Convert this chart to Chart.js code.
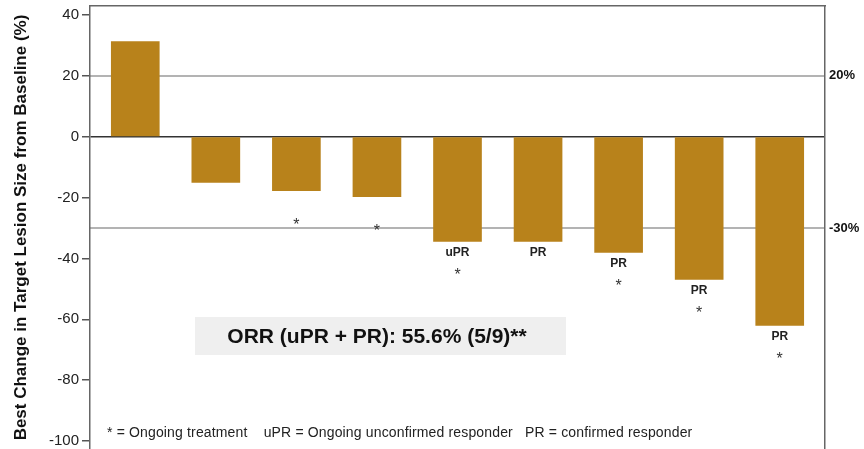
<!DOCTYPE html>
<html lang="en">
<head>
    <meta charset="UTF-8">
    <title>Best Change in Target Lesion Size</title>
    <script src="https://cdn.jsdelivr.net/npm/chart.js"></script>
    <style>
        body {
            margin: 0;
            background: #fff;
        }
        #wrap {
            position: relative;
            width: 864px;
            height: 449px;
        }
    </style>
</head>
<body>

<div id="wrap">
    <canvas id="waterfall"></canvas>
</div>

<script>
    // patients, left to right (not printed on the chart)
    const patients = ['1', '2', '3', '4', '5', '6', '7', '8', '9'];
    // best % change from baseline
    const bestChange = [31.3, -15, -17.7, -19.7, -34.4, -34.4, -38, -46.9, -62];
    const response = ['', '', '', '', 'uPR', 'PR', 'PR', 'PR', 'PR'];
    const ongoing = [false, false, true, true, true, false, true, true, true];

    const yTicks = [40, 20, 0, -20, -40, -60, -80, -100];
    const refLines = [20, -30];
    const orrText = 'ORR (uPR + PR): 55.6% (5/9)**';
    const footnote = '* = Ongoing treatment    uPR = Ongoing unconfirmed responder   PR = confirmed responder';

    const barColor = '#B8821B';
    const frameColor = '#666';
    const fontFamily = '"Liberation Sans", Arial, sans-serif';

    // labels under the bars, ORR box and footnote
    const extrasPlugin = {
        id: 'extras',
        afterDatasetsDraw(chart) {
            const ctx = chart.ctx;
            const meta = chart.getDatasetMeta(0);
            ctx.save();
            meta.data.forEach((bar, i) => {
                if (bestChange[i] >= 0) return;
                ctx.textAlign = 'center';
                if (response[i]) {
                    ctx.fillStyle = '#222';
                    ctx.font = 'bold 12px ' + fontFamily;
                    ctx.textBaseline = 'middle';
                    ctx.fillText(response[i], bar.x, bar.y + 11);
                }
                if (ongoing[i]) {
                    ctx.fillStyle = '#333';
                    ctx.font = '16px ' + fontFamily;
                    ctx.textBaseline = 'alphabetic';
                    ctx.fillText('*', bar.x, bar.y + 39);
                }
            });

            // ORR box
            ctx.fillStyle = '#efefef';
            ctx.fillRect(195, 317, 371, 38);
            ctx.fillStyle = '#111';
            ctx.font = 'bold 21px ' + fontFamily;
            ctx.textAlign = 'center';
            ctx.textBaseline = 'middle';
            ctx.fillText(orrText, 377, 337);

            // footnote
            ctx.fillStyle = '#222';
            ctx.font = '14px ' + fontFamily;
            ctx.letterSpacing = '0.15px';
            ctx.textAlign = 'left';
            ctx.textBaseline = 'middle';
            ctx.fillText(footnote, 107, 433);
            ctx.restore();
        }
    };

    const ctx = document.getElementById('waterfall').getContext('2d');
    new Chart(ctx, {
        type: 'bar',
        data: {
            datasets: [{
                label: 'Best change',
                data: patients.map((p, i) => ({ x: i, y: bestChange[i] })),
                backgroundColor: barColor,
                borderWidth: 0,
                barThickness: 48
            }]
        },
        options: {
            responsive: true,
            maintainAspectRatio: false,
            animation: false,
            layout: { padding: { top: 6, bottom: 0, left: 0, right: 0 } },
            plugins: {
                legend: { display: false },
                tooltip: { enabled: false }
            },
            scales: {
                x: {
                    type: 'linear',
                    position: 'top',
                    offset: false,
                    min: -0.562,
                    max: 8.562,
                    afterFit: axis => { axis.height = 0; },
                    ticks: { display: false },
                    grid: { display: false },
                    border: { display: true, color: frameColor, width: 1.5 }
                },
                y: {
                    position: 'left',
                    min: -102.6,
                    max: 42.96,
                    afterBuildTicks: axis => { axis.ticks = yTicks.map(v => ({ value: v })); },
                    afterFit: axis => { axis.width = 90; axis.paddingTop = 0; axis.paddingBottom = 0; },
                    ticks: {
                        color: '#222',
                        padding: 3,
                        font: { family: fontFamily, size: 15, lineHeight: 0.1 }
                    },
                    grid: {
                        drawOnChartArea: true,
                        color: c => c.tick && c.tick.value === 0 ? '#333' : 'rgba(0,0,0,0)',
                        lineWidth: 1.5,
                        tickColor: '#555',
                        tickLength: 8
                    },
                    border: { display: true, color: frameColor, width: 1.5 },
                    title: {
                        display: true,
                        text: 'Best Change in Target Lesion Size from Baseline (%)',
                        color: '#111',
                        font: { family: fontFamily, size: 17, weight: 'bold' },
                        padding: { top: 11, bottom: 0 }
                    }
                },
                yRef: {
                    position: 'right',
                    min: -102.6,
                    max: 42.96,
                    afterBuildTicks: axis => { axis.ticks = refLines.map(v => ({ value: v })); },
                    afterFit: axis => { axis.width = 39; axis.paddingTop = 0; axis.paddingBottom = 0; },
                    ticks: {
                        color: '#111',
                        padding: 4,
                        font: { family: fontFamily, size: 13, weight: 'bold', lineHeight: 0.1 },
                        callback: v => v + '%'
                    },
                    grid: {
                        drawOnChartArea: true,
                        drawTicks: false,
                        color: '#b3b3b3',
                        lineWidth: 2
                    },
                    border: { display: true, color: frameColor, width: 1.5 }
                }
            }
        },
        plugins: [extrasPlugin]
    });
</script>

</body>
</html>
